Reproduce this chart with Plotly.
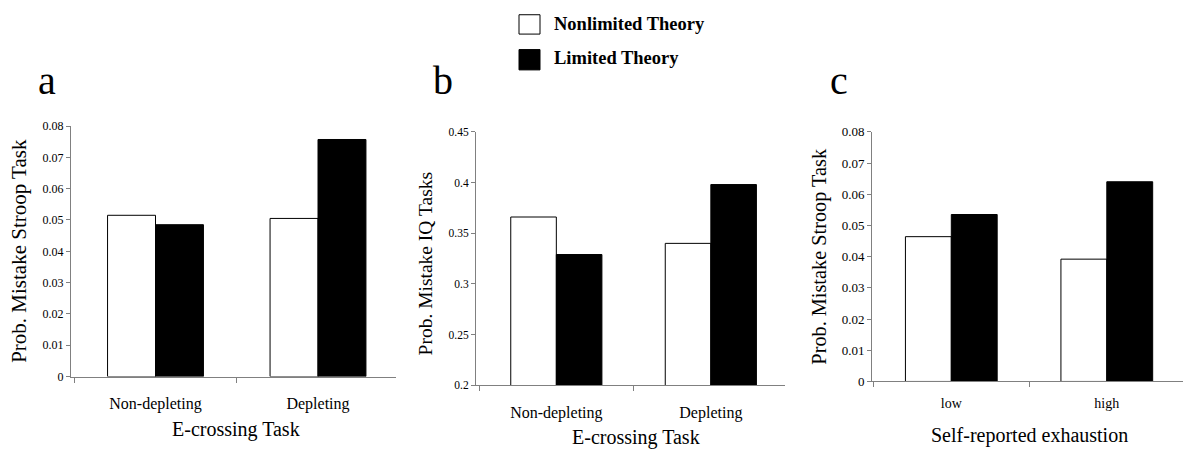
import plotly.graph_objects as go

W, H = 1183, 463

cats_ab = ["Non-depleting", "Depleting"]
cats_c = ["low", "high"]
series_names = ["Nonlimited Theory", "Limited Theory"]

a_nonlimited = [0.0515, 0.0505]
a_limited = [0.0485, 0.0757]
b_nonlimited = [0.366, 0.340]
b_limited = [0.329, 0.398]
c_nonlimited = [0.0464, 0.0392]
c_limited = [0.0535, 0.0640]

panel_letters = ["a", "b", "c"]
y_titles = ["Prob. Mistake Stroop Task", "Prob. Mistake IQ Tasks", "Prob. Mistake Stroop Task"]
x_titles = ["E-crossing Task", "E-crossing Task", "Self-reported exhaustion"]

FONT = "Liberation Serif"
AXC = "#808080"

def px(x):
    return x / W

def py(y):
    return 1 - y / H

fig = go.Figure()

panels = [
    dict(cats=cats_ab, nl=a_nonlimited, l=a_limited, x0=71, x1=396, ytop=123, ybot=382,
         yr=[0, 0.08], dt=0.01, r0=-0.52, tickfs=12, xfs=16, xstand=12, ytf=21,
         ytx=19, xtx=236, xty=437, ytc=252),
    dict(cats=cats_ab, nl=b_nonlimited, l=b_limited, x0=476, x1=785, ytop=129, ybot=391,
         yr=[0.2, 0.45], dt=0.05, r0=-0.52, tickfs=11.5, xfs=16, xstand=12, ytf=19.5,
         ytx=425, xtx=636, xty=445, ytc=265),
    dict(cats=cats_c, nl=c_nonlimited, l=c_limited, x0=872, x1=1183, ytop=129, ybot=387,
         yr=[0, 0.08], dt=0.01, r0=-0.51, tickfs=13, xfs=14, xstand=9, ytf=20.3,
         ytx=820, xtx=1029, xty=443, ytc=258),
]

layout_axes = {}
annotations = []
for i, p in enumerate(panels):
    n = "" if i == 0 else str(i + 1)
    xa = "x" + n
    ya = "y" + n
    fig.add_trace(go.Bar(x=p["cats"], y=p["nl"], name=series_names[0], xaxis=xa, yaxis=ya,
                         marker=dict(color="white", line=dict(color="black", width=1)),
                         showlegend=False))
    fig.add_trace(go.Bar(x=p["cats"], y=p["l"], name=series_names[1], xaxis=xa, yaxis=ya,
                         marker=dict(color="black", line=dict(color="black", width=1)),
                         showlegend=False))
    layout_axes["xaxis" + n] = dict(
        domain=[px(p["x0"]), px(p["x1"])], anchor=ya, type="category",
        range=[p["r0"], p["r0"] + 2], showline=True, linecolor=AXC, linewidth=1,
        ticks="outside", tickson="boundaries", ticklen=5, tickcolor=AXC,
        tickfont=dict(family=FONT, size=p["xfs"], color="black"),
        ticklabelstandoff=p["xstand"], showgrid=False, zeroline=False, fixedrange=True)
    layout_axes["yaxis" + n] = dict(
        domain=[py(p["ybot"]), py(p["ytop"])], anchor=xa, range=p["yr"], dtick=p["dt"],
        tick0=p["yr"][0], showline=True, linecolor=AXC, linewidth=1, ticks="outside",
        ticklen=4, tickcolor=AXC, tickfont=dict(family=FONT, size=p["tickfs"], color="black"),
        showgrid=False, zeroline=False, fixedrange=True)
    annotations.append(dict(x=px(p["ytx"]), y=py(p["ytc"]), xref="paper", yref="paper",
                            text=y_titles[i], textangle=-90, showarrow=False,
                            font=dict(family=FONT, size=p["ytf"], color="black"),
                            xanchor="center", yanchor="middle"))
    annotations.append(dict(x=px(p["xtx"]), y=py(p["xty"]), xref="paper", yref="paper",
                            text=x_titles[i], showarrow=False,
                            font=dict(family=FONT, size=20, color="black"),
                            xanchor="center", yanchor="middle"))

letter_pos = [(47, 101), (443, 101), (839, 101)]
for t, (lx, ly) in zip(panel_letters, letter_pos):
    annotations.append(dict(x=px(lx), y=py(ly), xref="paper", yref="paper", text=t,
                            showarrow=False, font=dict(family=FONT, size=40, color="black"),
                            xanchor="center", yanchor="bottom"))

# legend
shapes = []
leg_rows = [(8, 28, "white", series_names[0], 18), (44, 65, "black", series_names[1], 53)]
for y0, y1, col, txt, yc in leg_rows:
    shapes.append(dict(type="rect", xref="paper", yref="paper", x0=px(519), x1=px(540),
                       y0=py(y1), y1=py(y0), fillcolor=col, line=dict(color="black", width=1)))
    annotations.append(dict(x=px(552), y=py(yc), xref="paper", yref="paper",
                            text="<b>" + txt + "</b>",
                            showarrow=False, font=dict(family=FONT, size=18.5, color="black"),
                            xanchor="left", yanchor="middle"))

fig.update_layout(
    width=W, height=H, margin=dict(l=0, r=0, t=0, b=0),
    paper_bgcolor="white", plot_bgcolor="white",
    barmode="group", bargap=0.41, bargroupgap=0,
    annotations=annotations, shapes=shapes, showlegend=False,
    **layout_axes)

fig.write_html("out.html", config={"displayModeBar": False, "staticPlot": True},
               post_script="document.body.style.margin='0';document.body.style.overflow='hidden';")
